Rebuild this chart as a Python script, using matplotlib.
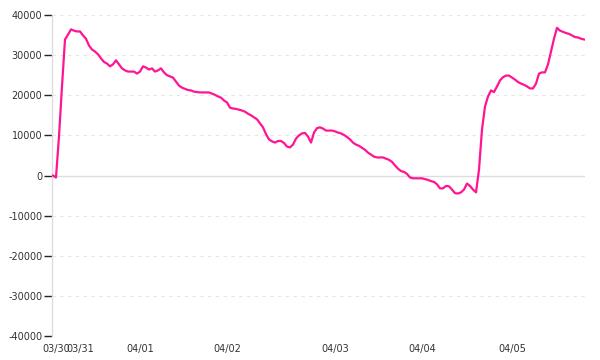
import matplotlib

matplotlib.use("Agg")
import matplotlib.pyplot as plt

# intraday balance, one reading per step
values = [
    0, -500, 9700, 22200, 33900, 35100, 36400, 36100, 35900, 35900,
    34900, 34100, 32400, 31400, 30900, 30200, 29200, 28300, 27900, 27200,
    27700, 28700, 27700, 26700, 26200, 25900, 25900, 25900, 25400, 25900,
    27200, 26900, 26400, 26700, 25900, 26200, 26700, 25700, 25000, 24700,
    24400, 23400, 22400, 21900, 21600, 21300, 21200, 20900, 20800, 20700,
    20700, 20700, 20700, 20400, 20100, 19700, 19400, 18700, 18200, 16900,
    16700, 16600, 16400, 16200, 15900, 15400, 15000, 14500, 14000, 13000,
    12000, 10300, 9000, 8500, 8200, 8600, 8600, 8100, 7200, 7000,
    7700, 9200, 10000, 10500, 10600, 9700, 8200, 10700, 11800, 12000,
    11700, 11200, 11200, 11200, 11000, 10700, 10500, 10100, 9600, 9000,
    8200, 7700, 7400, 6900, 6400, 5700, 5200, 4700, 4500, 4500,
    4500, 4200, 3900, 3400, 2500, 1700, 1100, 900, 400, -500,
    -700, -700, -700, -700, -900, -1100, -1400, -1600, -2200, -3200,
    -3200, -2600, -2700, -3500, -4400, -4500, -4200, -3500, -2000, -2600,
    -3500, -4200, 1500, 11500, 17200, 19700, 21200, 20800, 22200, 23700,
    24500, 24900, 24900, 24400, 23900, 23300, 22900, 22600, 22200, 21700,
    21700, 22900, 25400, 25700, 25700, 27700, 30900, 34100, 36800, 36100,
    35800, 35500, 35300, 34900, 34500, 34400, 34100, 33900,
]

# step index where each day label sits
day_ticks = [1, 9, 29, 58, 94, 123, 153]
day_labels = ["03/30", "03/31", "04/01", "04/02", "04/03", "04/04", "04/05"]

y_ticks = list(range(-40000, 40001, 10000))

fig = plt.figure(figsize=(6, 3.6), dpi=100)
ax = fig.add_axes([52 / 600, 1 - 336 / 360, 533 / 600, 321 / 360])

for y in y_ticks:
    if y == 0:
        ax.axhline(y, color="#dddddd", linewidth=1, zorder=1)
    else:
        ax.axhline(y, color="#e6e6e6", linewidth=0.8, linestyle=(0, (3, 4)), zorder=1)

ax.plot(range(len(values)), values, color="#ff1493", linewidth=1.6, zorder=3)

ax.set_xlim(-0.33, len(values) - 0.67)
ax.set_ylim(-40000, 40000)

ax.set_yticks(y_ticks)
ax.set_yticklabels([str(y) for y in y_ticks])
ax.set_xticks(day_ticks)
ax.set_xticklabels(day_labels)

ax.tick_params(axis="y", direction="out", length=6, width=1, color="#222222",
               labelsize=7, labelcolor="#333333", pad=1)
ax.tick_params(axis="x", length=0, labelsize=7, labelcolor="#333333", pad=6)

for side in ("top", "right", "bottom"):
    ax.spines[side].set_visible(False)
ax.spines["left"].set_color("#dddddd")
ax.spines["left"].set_linewidth(1)

fig.savefig("out.png", dpi=100)
